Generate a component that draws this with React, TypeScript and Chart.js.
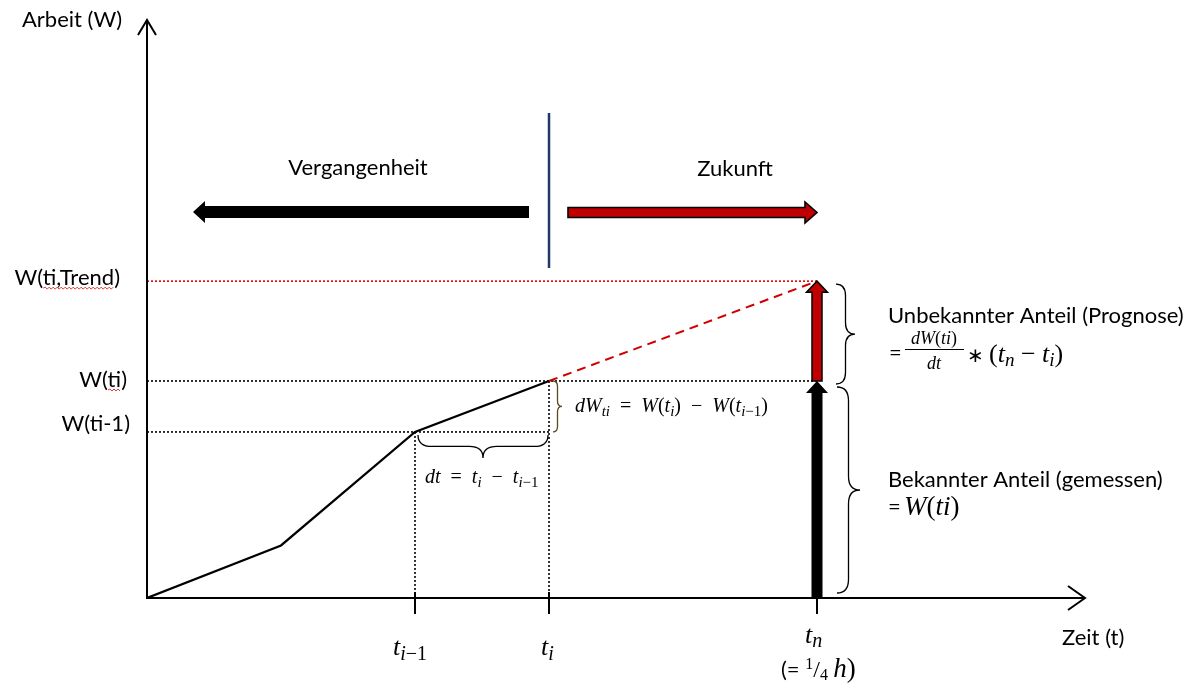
import { useEffect, useRef } from "react";
import { Chart, registerables } from "chart.js";

Chart.register(...registerables);

// Zeit in Minuten (t_n = 1/4 h = 15 min), Arbeit in beliebigen Einheiten
const measuredTimes = [0, 3, 6, 9];
const measuredWork = [0, 1.0, 3.16, 4.13];
const trendTimes = [9, 15];
const trendWork = [4.13, 6.03];
const tickTimes = [6, 9, 15]; // t_{i-1}, t_i, t_n
const axisMaxTime = 21;
const axisMaxWork = 11;
const levelLabels = ["W(ti-1)", "W(ti)", "W(ti,Trend)"];
const axisTitles = ["Arbeit (W)", "Zeit (t)"];
const regionLabels = ["Vergangenheit", "Zukunft"];
const shareLabels = ["Unbekannter Anteil (Prognose)", "Bekannter Anteil (gemessen)"];

const SANS = "22px Lato";
const mi = (s: number) => `italic ${s}px "Liberation Serif"`;
const mr = (s: number) => `${s}px "Liberation Serif"`;
const EQ = "\u2002=\u2002";
const MINUS = "\u2002−\u2002";

type Seg = { t: string; f: string; dy?: number };

function drawRich(ctx: CanvasRenderingContext2D, segs: Seg[], x: number, y: number, align: "left" | "center" = "left") {
  let w = 0;
  for (const s of segs) {
    ctx.font = s.f;
    w += ctx.measureText(s.t).width;
  }
  let cx = align === "center" ? x - w / 2 : x;
  ctx.textAlign = "left";
  for (const s of segs) {
    ctx.font = s.f;
    ctx.fillText(s.t, cx, y + (s.dy || 0));
    cx += ctx.measureText(s.t).width;
  }
  return w;
}

function line(ctx: CanvasRenderingContext2D, x1: number, y1: number, x2: number, y2: number) {
  ctx.beginPath();
  ctx.moveTo(x1, y1);
  ctx.lineTo(x2, y2);
  ctx.stroke();
}

function blockArrow(
  ctx: CanvasRenderingContext2D,
  x1: number, y1: number, x2: number, y2: number,
  shaft: number, head: number, headLen: number,
  fill: string, stroke?: string, sw = 1.5
) {
  const dx = x2 - x1, dy = y2 - y1, L = Math.hypot(dx, dy);
  const ux = dx / L, uy = dy / L, nx = -uy, ny = ux;
  const bx = x2 - ux * headLen, by = y2 - uy * headLen;
  const p = (a: number, b: number, s: number) => [a + nx * s, b + ny * s];
  const pts = [
    p(x1, y1, shaft / 2), p(bx, by, shaft / 2), p(bx, by, head / 2), [x2, y2],
    p(bx, by, -head / 2), p(bx, by, -shaft / 2), p(x1, y1, -shaft / 2),
  ];
  ctx.beginPath();
  ctx.moveTo(pts[0][0], pts[0][1]);
  for (let i = 1; i < pts.length; i++) ctx.lineTo(pts[i][0], pts[i][1]);
  ctx.closePath();
  ctx.fillStyle = fill;
  ctx.fill();
  if (stroke) {
    ctx.lineJoin = "miter";
    ctx.strokeStyle = stroke;
    ctx.lineWidth = sw;
    ctx.stroke();
  }
}

function brace(ctx: CanvasRenderingContext2D, x1: number, y1: number, x2: number, y2: number, w: number, color: string, lw = 1.3) {
  const L = Math.hypot(x2 - x1, y2 - y1);
  const ux = (x2 - x1) / L, uy = (y2 - y1) / L;
  const nx = uy, ny = -ux;
  const P = (s: number, n: number): [number, number] => [x1 + ux * s + nx * n, y1 + uy * s + ny * n];
  const a = w * 0.5;
  const r = Math.min(L / 4, w * 0.6);
  ctx.beginPath();
  ctx.moveTo(...P(0, 0));
  ctx.quadraticCurveTo(...P(0, a), ...P(r, a));
  ctx.lineTo(...P(L / 2 - r, a));
  ctx.quadraticCurveTo(...P(L / 2, a), ...P(L / 2, w));
  ctx.quadraticCurveTo(...P(L / 2, a), ...P(L / 2 + r, a));
  ctx.lineTo(...P(L - r, a));
  ctx.quadraticCurveTo(...P(L, a), ...P(L, 0));
  ctx.strokeStyle = color;
  ctx.lineWidth = lw;
  ctx.setLineDash([]);
  ctx.stroke();
}

function squiggle(ctx: CanvasRenderingContext2D, x1: number, x2: number, y: number) {
  ctx.save();
  ctx.strokeStyle = "#e02020";
  ctx.lineWidth = 0.9;
  ctx.beginPath();
  let up = true;
  ctx.moveTo(x1, y);
  for (let x = x1 + 2; x <= x2; x += 2) {
    ctx.lineTo(x, up ? y - 1 : y + 1);
    up = !up;
  }
  ctx.stroke();
  ctx.restore();
}

const diagramPlugin = {
  id: "diagram",
  beforeDatasetsDraw(chart: any) {
    const { ctx, scales } = chart;
    const X = (v: number) => scales.x.getPixelForValue(v);
    const Y = (v: number) => scales.y.getPixelForValue(v);
    const x0 = X(0), y0 = Y(0);
    const [tPrev, tCur, tN] = tickTimes;
    const wPrev = measuredWork[2], wCur = measuredWork[3], wTrend = trendWork[1];
    ctx.save();
    ctx.lineWidth = 1.6;
    ctx.setLineDash([2, 2]);
    ctx.strokeStyle = "#000";
    line(ctx, x0, Y(wPrev), X(tCur), Y(wPrev));
    line(ctx, x0, Y(wCur), X(tN), Y(wCur));
    line(ctx, X(tPrev), Y(wPrev), X(tPrev), y0);
    line(ctx, X(tCur), Y(wCur), X(tCur), y0);
    ctx.strokeStyle = "#e00000";
    line(ctx, x0, Y(wTrend), X(tN), Y(wTrend));
    ctx.restore();
  },
  afterDatasetsDraw(chart: any) {
    const { ctx, scales } = chart;
    const X = (v: number) => scales.x.getPixelForValue(v);
    const Y = (v: number) => scales.y.getPixelForValue(v);
    const x0 = X(0), y0 = Y(0);
    const [tPrev, tCur, tN] = tickTimes;
    const wPrev = measuredWork[2], wCur = measuredWork[3], wTrend = trendWork[1];
    ctx.save();
    ctx.setLineDash([]);
    ctx.strokeStyle = "#000";
    ctx.lineWidth = 2;
    ctx.lineCap = "butt";
    // axes
    const xEnd = X(axisMaxTime), yTop = Y(axisMaxWork);
    line(ctx, x0, y0, xEnd, y0);
    line(ctx, x0, y0 + 1, x0, yTop);
    ctx.beginPath();
    ctx.moveTo(xEnd - 17, y0 - 12);
    ctx.lineTo(xEnd, y0);
    ctx.lineTo(xEnd - 17, y0 + 12);
    ctx.stroke();
    ctx.beginPath();
    ctx.moveTo(x0 - 9, yTop + 15);
    ctx.lineTo(x0, yTop);
    ctx.lineTo(x0 + 9, yTop + 15);
    ctx.stroke();
    // ticks
    line(ctx, X(tPrev), y0 - 6, X(tPrev), y0 + 16);
    line(ctx, X(tCur), y0 - 6, X(tCur), y0 + 16);
    line(ctx, X(tN), y0, X(tN), y0 + 16);

    // vertical block arrows at t_n
    blockArrow(ctx, X(tN), y0, X(tN), Y(wCur), 11, 22, 12, "#000");
    blockArrow(ctx, X(tN), Y(wCur), X(tN), Y(wTrend), 10, 21, 11, "#c00000", "#000", 1.5);

    // past / future arrows and separator
    blockArrow(ctx, 529, 212, 193, 212, 12, 22, 12, "#000");
    blockArrow(ctx, 568, 212.5, 817, 212.5, 10, 21, 12, "#c00000", "#000", 1.6);
    ctx.strokeStyle = "#1f3864";
    ctx.lineWidth = 2.5;
    line(ctx, X(tCur), 113, X(tCur), 268);

    // braces
    brace(ctx, X(tCur) + 4, Y(wCur), X(tCur) + 4, Y(wPrev), 9, "#5b4a1e", 1.3);
    brace(ctx, X(tCur) - 1, Y(wPrev) + 3, X(tPrev) + 3, Y(wPrev) + 3, 23, "#000", 1.3);
    brace(ctx, 836, Y(wTrend) + 3, 836, Y(wCur) + 3, 19, "#000", 1.3);
    brace(ctx, 837, Y(wCur) + 6, 837, y0 - 5, 23, "#000", 1.3);

    // texts
    ctx.fillStyle = "#000";
    ctx.textBaseline = "alphabetic";
    ctx.font = SANS;
    ctx.textAlign = "left";
    ctx.fillText(axisTitles[0], 22, 27);
    ctx.fillText(axisTitles[1], 1062, 645);
    ctx.textAlign = "center";
    ctx.fillText(regionLabels[0], 358, 175);
    ctx.fillText(regionLabels[1], 735, 176);
    ctx.textAlign = "left";
    ctx.fillText(shareLabels[0], 888, 323);
    ctx.fillText(shareLabels[1], 888, 487);

    // level labels (right aligned)
    const levels: [string, number, number, string | null][] = [
      [levelLabels[2], 120, Y(wTrend) + 4, "ti,Trend"],
      [levelLabels[1], 127, Y(wCur) + 6, "ti"],
      [levelLabels[0], 130, Y(wPrev) - 1, null],
    ];
    for (const [txt, xr, yb, sq] of levels) {
      ctx.font = SANS;
      ctx.textAlign = "right";
      ctx.fillText(txt, xr, yb);
      if (sq) {
        const start = xr - ctx.measureText(txt).width;
        const a = start + ctx.measureText("W(").width;
        const b = start + ctx.measureText("W(" + sq).width;
        squiggle(ctx, a, b, yb + 3);
      }
    }
    ctx.textAlign = "left";

    // dW formula
    drawRich(ctx, [
      { t: "dW", f: mi(20) }, { t: "ti", f: mi(15), dy: 4 },
      { t: EQ, f: mr(20) }, { t: "W", f: mi(20) }, { t: "(", f: mr(20) }, { t: "t", f: mi(20) },
      { t: "i", f: mi(15), dy: 4 }, { t: ")", f: mr(20) }, { t: MINUS, f: mr(20) },
      { t: "W", f: mi(20) }, { t: "(", f: mr(20) }, { t: "t", f: mi(20) },
      { t: "i", f: mi(15), dy: 4 }, { t: "−1", f: mr(15), dy: 4 }, { t: ")", f: mr(20) },
    ], 575, 412);
    // dt formula
    drawRich(ctx, [
      { t: "dt", f: mi(20) }, { t: EQ, f: mr(20) }, { t: "t", f: mi(20) }, { t: "i", f: mi(15), dy: 4 },
      { t: MINUS, f: mr(20) }, { t: "t", f: mi(20) }, { t: "i", f: mi(15), dy: 4 }, { t: "−1", f: mr(15), dy: 4 },
    ], 425, 483);

    // tick labels
    drawRich(ctx, [{ t: "t", f: mi(26) }, { t: "i", f: mi(20), dy: 5 }, { t: "−1", f: mr(20), dy: 5 }], 393, 655);
    drawRich(ctx, [{ t: "t", f: mi(26) }, { t: "i", f: mi(20), dy: 5 }], 541, 655);
    drawRich(ctx, [{ t: "t", f: mi(26) }, { t: "n", f: mi(20), dy: 4 }], 805, 643);
    drawRich(ctx, [
      { t: "(= ", f: SANS }, { t: "1", f: mr(16), dy: -8 }, { t: "/", f: mr(24) },
      { t: "4", f: mr(16), dy: 3 }, { t: "\u2009h", f: mi(27) }, { t: ")", f: mr(27) },
    ], 781, 677);

    // Prognose formula
    ctx.font = SANS;
    ctx.fillText("=", 889, 360);
    drawRich(ctx, [
      { t: "dW", f: mi(18) }, { t: "(", f: mr(18) }, { t: "ti", f: mi(18) }, { t: ")", f: mr(18) },
    ], 934, 344, "center");
    ctx.strokeStyle = "#000";
    ctx.lineWidth = 1;
    line(ctx, 905, 349.5, 964, 349.5);
    drawRich(ctx, [{ t: "dt", f: mi(18) }], 934, 369, "center");
    drawRich(ctx, [
      { t: "∗ ", f: mr(20) }, { t: "(", f: mr(26) }, { t: "t", f: mi(26) }, { t: "n", f: mi(19), dy: 4 },
      { t: " − ", f: mr(26) }, { t: "t", f: mi(26) }, { t: "i", f: mi(19), dy: 4 }, { t: ")", f: mr(26) },
    ], 967, 362);

    // Bekannter formula
    ctx.font = SANS;
    ctx.fillText("=", 888, 514);
    drawRich(ctx, [
      { t: "W", f: mi(27) }, { t: "(", f: mr(27) }, { t: "ti", f: mi(27) }, { t: ")", f: mr(27) },
    ], 904, 515);

    ctx.restore();
  },
};

export default function App() {
  const ref = useRef<HTMLCanvasElement | null>(null);
  useEffect(() => {
    if (!ref.current) return;
    const chart = new Chart(ref.current, {
      type: "line",
      data: {
        datasets: [
          {
            label: "gemessen",
            data: measuredTimes.map((t, i) => ({ x: t, y: measuredWork[i] })),
            borderColor: "#000",
            borderWidth: 2.2,
            pointRadius: 0,
            tension: 0,
          },
          {
            label: "Trend",
            data: trendTimes.map((t, i) => ({ x: t, y: trendWork[i] })),
            borderColor: "#d00000",
            borderWidth: 2,
            borderDash: [9, 6],
            pointRadius: 0,
            tension: 0,
          },
        ],
      },
      options: {
        responsive: true,
        maintainAspectRatio: false,
        animation: false,
        events: [],
        layout: { padding: { left: 147, right: 110, top: 20, bottom: 86 } },
        plugins: { legend: { display: false }, tooltip: { enabled: false } },
        scales: {
          x: { type: "linear", min: 0, max: axisMaxTime, display: false },
          y: { type: "linear", min: 0, max: axisMaxWork, display: false },
        },
      },
      plugins: [diagramPlugin],
    });
    return () => chart.destroy();
  }, []);
  return (
    <div style={{ position: "fixed", left: 0, top: 0, width: 1195, height: 684, background: "#fff" }}>
      <canvas ref={ref} />
    </div>
  );
}
